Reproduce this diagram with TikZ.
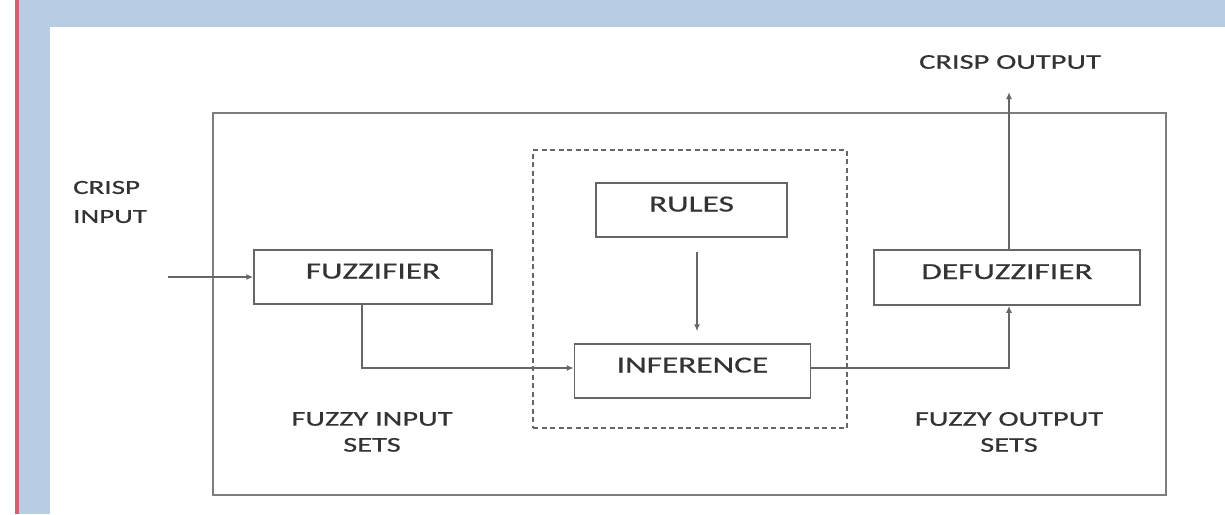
\documentclass[tikz,border=0pt]{standalone}
\usepackage{fontspec}
\setmainfont{Carlito}
\newfontfamily\labfont[FakeStretch=1.45,FakeBold=0.6]{Carlito}
\usetikzlibrary{arrows.meta}
\definecolor{slideblue}{HTML}{B8CCE4}
\definecolor{slidered}{HTML}{C8656D}
\definecolor{linegray}{HTML}{666666}
\definecolor{textgray}{HTML}{333333}
\tikzset{
  blockbox/.style={draw=linegray, line width=1.5pt, rectangle, inner sep=0pt,
    font=\labfont\fontsize{23}{26}\selectfont, text=textgray,
    text height=15pt, text depth=12pt},
  framebox/.style={draw=linegray!85, line width=1.5pt, rectangle, inner sep=0pt},
  dashbox/.style={draw=linegray, line width=1.3pt, rectangle, inner sep=0pt,
    dash pattern=on 5pt off 3.5pt},
  lbl/.style={font=\labfont\fontsize{21}{26}\selectfont, text=textgray, inner sep=0pt, align=center},
  conn/.style={draw=linegray, line width=1.5pt, -{Latex[length=7pt,width=6pt]}},
}
\begin{document}
\begin{tikzpicture}[x=1pt,y=-1pt]
  % slide background
  \fill[white] (0,0) rectangle (1225,514);
  \fill[slideblue] (19,0) rectangle (1225,514);
  \fill[slidered] (15,0) rectangle (19,514);
  \fill[white] (50,27) rectangle (1225,514);
  \useasboundingbox (0,0) rectangle (1225,514);

  % frames
  \node[framebox, minimum width=953pt, minimum height=382pt] (outer) at (689.5,304) {};
  \node[dashbox, minimum width=314pt, minimum height=278pt] (inner) at (690,289) {};

  % blocks
  \node[blockbox, minimum width=238pt, minimum height=54pt] (fuzz) at (373,277) {FUZZIFIER};
  \node[blockbox, minimum width=191pt, minimum height=54pt] (rules) at (691.5,210) {RULES};
  \node[blockbox, minimum width=236pt, minimum height=54pt] (inf) at (692.5,371) {INFERENCE};
  \node[blockbox, minimum width=266pt, minimum height=55pt] (defuzz) at (1007,277.5) {DEFUZZIFIER};

  % labels
  \node[lbl] (cout) at (1010,62) {CRISP OUTPUT};
  \node[lbl, align=left, anchor=west, font=\labfont\fontsize{20}{29}\selectfont] (cin) at (73,202) {CRISP\\INPUT};
  \node[lbl, font=\labfont\fontsize{21}{26}\selectfont] (fis) at (372,432) {FUZZY INPUT\\SETS};
  \node[lbl, font=\labfont\fontsize{21}{26}\selectfont] (fos) at (1009,432) {FUZZY OUTPUT\\SETS};

  % connector end points
  \coordinate (inpt) at (168,277);
  \coordinate (outpt) at (1009,92);

  % connectors
  \draw[conn] (inpt) -- (fuzz.west);
  \draw[conn] ([xshift=-11pt]fuzz.south) |- ([yshift=3pt]inf.west);
  \draw[conn, shorten <=14pt, shorten >=12pt] ([xshift=5.5pt]rules.south) -- ([xshift=4.5pt]inf.north);
  \draw[conn] ([yshift=3pt]inf.east) -| ([xshift=2pt]defuzz.south);
  \draw[conn] ([xshift=2pt]defuzz.north) -- (outpt);
\end{tikzpicture}
\end{document}
